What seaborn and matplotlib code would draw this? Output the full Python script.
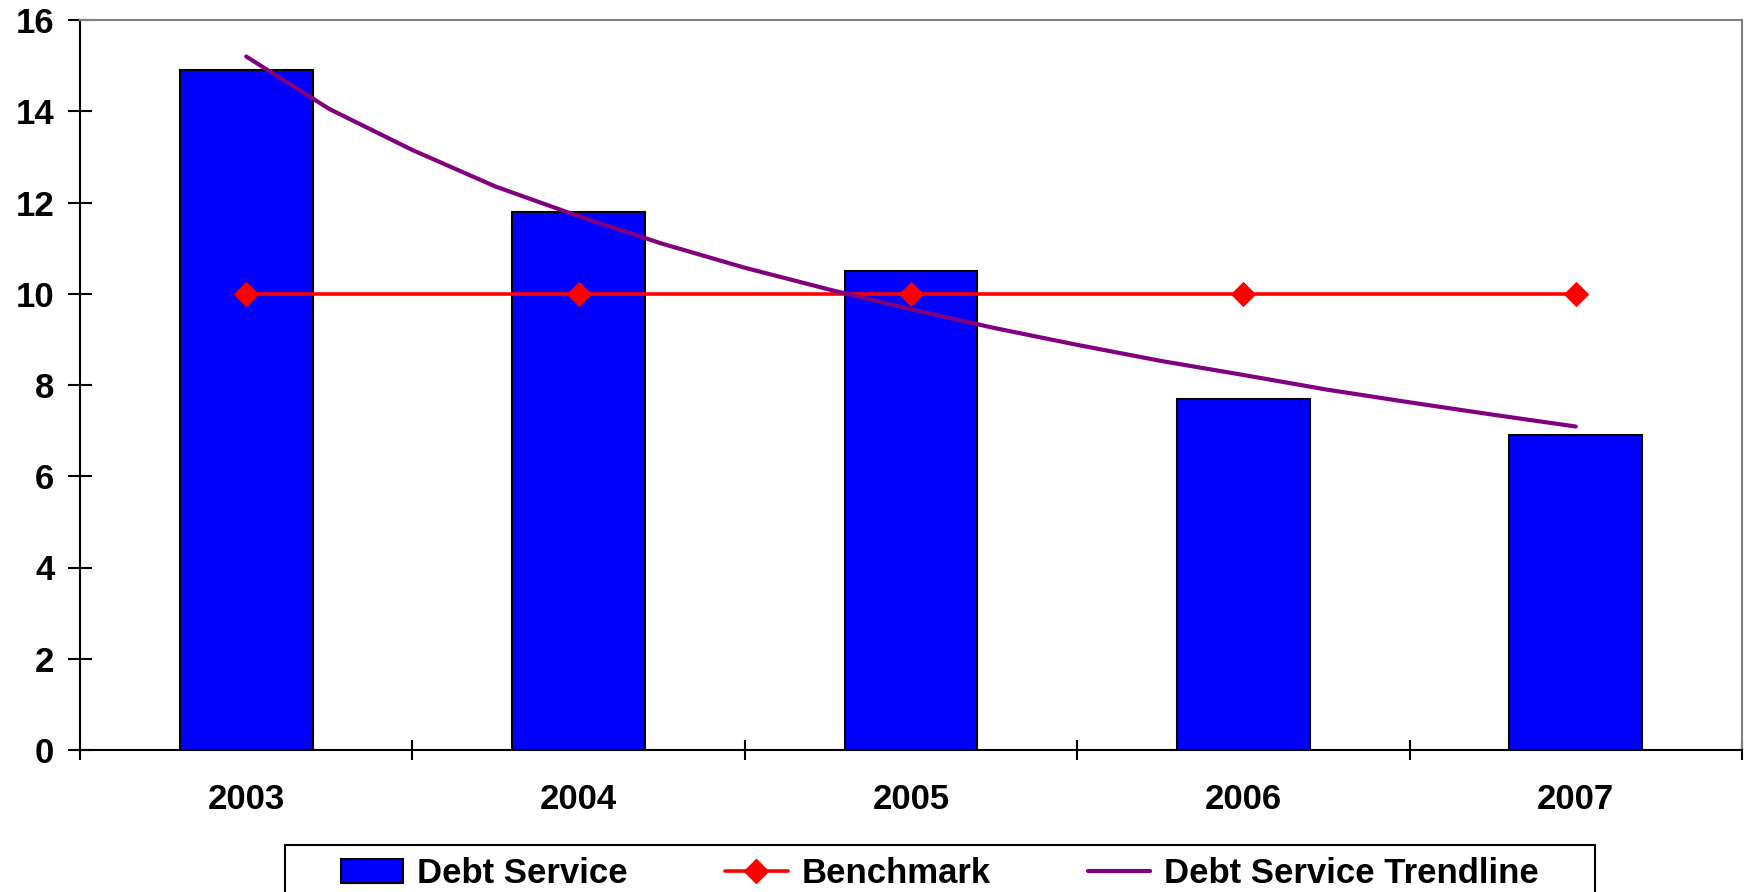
import numpy as np
import pandas as pd
import matplotlib
matplotlib.use('Agg')
import matplotlib.pyplot as plt
import seaborn as sns
from matplotlib.patches import Patch, Rectangle
from matplotlib.lines import Line2D

# 数据
years = ['2003', '2004', '2005', '2006', '2007']
debt_service = [14.9, 11.8, 10.5, 7.7, 6.9]
benchmark = [10, 10, 10, 10, 10]
# 趋势线 (从图上读取，每季度一个点)
trend_years = [2003, 2003.25, 2003.5, 2003.75, 2004, 2004.25, 2004.5, 2004.75, 2005,
               2005.25, 2005.5, 2005.75, 2006, 2006.25, 2006.5, 2006.75, 2007]
trend_values = [15.2, 14.05, 13.15, 12.35, 11.7, 11.1, 10.57, 10.1, 9.66,
                9.25, 8.88, 8.53, 8.22, 7.9, 7.62, 7.35, 7.09]

sns.set_style('white')
plt.rcParams['font.family'] = ['Liberation Sans', 'DejaVu Sans']
plt.rcParams['font.weight'] = 'bold'
for k in ['text.color', 'axes.labelcolor', 'xtick.color', 'ytick.color']:
    plt.rcParams[k] = 'black'

df = pd.DataFrame({'year': years, 'debt': debt_service, 'bench': benchmark})
df['pos'] = np.arange(len(years))
trend = pd.DataFrame({'year': trend_years, 'value': trend_values})
trend['pos'] = trend['year'] - 2003

fig = plt.figure(figsize=(17.51, 8.92), dpi=100)
ax = fig.add_axes([80 / 1751, 1 - 750 / 892, (1742 - 80) / 1751, (750 - 20) / 892])

sns.barplot(data=df, x='year', y='debt', color='#0000ff', saturation=1, width=0.4,
            edgecolor='black', linewidth=1.5, ax=ax)
sns.lineplot(data=df, x='pos', y='bench', color='#ff0000', linewidth=2.6,
             marker='D', markersize=12, markeredgecolor='#ff0000', ax=ax)
sns.lineplot(data=trend, x='pos', y='value', color='#800080', linewidth=3, ax=ax)

ax.set_xlim(-0.5, 4.5)
ax.set_ylim(0, 16)
ax.set_xlabel('')
ax.set_ylabel('')
ax.set_yticks(np.arange(0, 17, 2))
ax.set_xticks(np.arange(len(years)))
ax.set_xticklabels(years)
ax.set_xticks(np.arange(-0.5, 4.6, 1), minor=True)

ax.tick_params(axis='y', direction='inout', length=17, width=1.5, pad=10,
               labelsize=25, left=True)
ax.tick_params(axis='x', which='major', length=0, pad=24, labelsize=25)
ax.tick_params(axis='x', which='minor', direction='inout', length=14, width=1.5, bottom=True)
for lab in ax.get_xticklabels() + ax.get_yticklabels():
    lab.set_fontweight('bold')

for s in ['left', 'bottom']:
    ax.spines[s].set_color('black')
    ax.spines[s].set_linewidth(1.5)
for s in ['top', 'right']:
    ax.spines[s].set_color('#808080')
    ax.spines[s].set_linewidth(1.5)

# 图例 (边框单独画，比内容更宽)
handles = [
    Patch(facecolor='#0000ff', edgecolor='black', linewidth=1.5),
    Line2D([], [], color='#ff0000', linewidth=2.6, marker='D', markersize=12),
    Line2D([], [], color='#800080', linewidth=3),
]
labels = ['Debt Service', 'Benchmark', 'Debt Service Trendline']
leg = fig.legend(handles, labels, ncol=3, loc='upper center',
                 bbox_to_anchor=(940 / 1751, 1 - 845 / 892),
                 frameon=False,
                 prop={'size': 25, 'weight': 'bold'},
                 handlelength=1.8, handleheight=0.7, handletextpad=0.4,
                 columnspacing=2.8, borderpad=0.35, borderaxespad=0)
fig.patches.append(Rectangle((285 / 1751, -0.05), (1595 - 285) / 1751, 0.05 + 1 - 845 / 892,
                             transform=fig.transFigure, fill=False,
                             edgecolor='black', linewidth=1.5))

fig.savefig('out.png', dpi=100)
